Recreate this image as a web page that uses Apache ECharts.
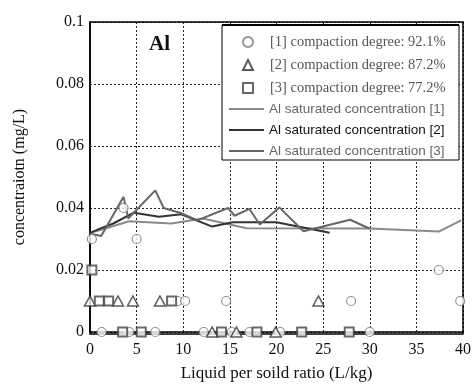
<!DOCTYPE html>
<html>
<head>
<meta charset="utf-8">
<script src="https://cdn.jsdelivr.net/npm/echarts@6/dist/echarts.min.js"></script>
<style>
  html, body { margin: 0; padding: 0; background: #fff; }
  #chart { width: 474px; height: 387px; }
</style>
</head>
<body>
<div id="chart"></div>
<script>
// measured points, [x (L/kg), concentration (mg/L)]
const pts92 = [[0.2,0.03],[3.6,0.04],[5,0.03],[9.4,0.01],[10.2,0.01],[14.6,0.01],[28,0.01],[37.4,0.02],[39.7,0.01],
  [1.25,0],[4.2,0],[7,0],[12.2,0],[15.2,0],[17.1,0],[20.4,0],[30,0]];
const pts87 = [[0,0.01],[3,0.01],[4.6,0.01],[7.5,0.01],[24.5,0.01],[13.1,0],[15.7,0],[19.9,0]];
const pts77 = [[0.2,0.02],[1,0.01],[2,0.01],[8.75,0.01],[3.5,0],[5.5,0],[14.1,0],[17.9,0],[22.7,0],[27.8,0]];

// saturated concentration curves
const sat1 = [[0,0.032],[1.2,0.033],[4.2,0.0357],[8.7,0.035],[12.1,0.0366],[16.8,0.0335],[30,0.0334],[37.4,0.0324],[39.8,0.036]];
const sat2 = [[0,0.032],[1.2,0.0335],[2.5,0.035],[4.7,0.0385],[7.4,0.0372],[9.8,0.038],[13.1,0.034],[15.3,0.0354],[20,0.0354],[25.7,0.032]];
const sat3 = [[0,0.0317],[1.2,0.031],[3.6,0.0436],[4.1,0.0366],[7.0,0.0457],[7.9,0.040],[9.8,0.0383],[11.5,0.036],[14.8,0.040],
  [15.5,0.0375],[17.1,0.0397],[18.2,0.0347],[20.3,0.0402],[22.9,0.0325],[27.9,0.0362],[30,0.0333]];

const names = [
  '[1] compaction degree: 92.1%',
  '[2] compaction degree: 87.2%',
  '[3] compaction degree: 77.2%',
  'Al saturated concentration [1]',
  'Al saturated concentration [2]',
  'Al saturated concentration [3]'
];

const serif = '"Liberation Serif", "Times New Roman", serif';
const sans = '"Liberation Sans", Arial, sans-serif';

const chart = echarts.init(document.getElementById('chart'));

const option = {
  animation: false,
  backgroundColor: '#fff',
  title: {
    text: 'Al',
    left: 144,
    top: 29,
    textStyle: { fontFamily: serif, fontSize: 21, fontWeight: 'bold', color: '#111' }
  },
  grid: { left: 90, right: 11, top: 22, bottom: 53, containLabel: false },
  xAxis: {
    type: 'value',
    min: 0, max: 40, interval: 5,
    name: 'Liquid per soild ratio (L/kg)',
    nameLocation: 'middle',
    nameGap: 33,
    nameTextStyle: { fontFamily: serif, fontSize: 17, color: '#111' },
    axisLine: { lineStyle: { color: '#000', width: 1.5 } },
    axisTick: { show: false },
    axisLabel: { fontFamily: serif, fontSize: 16, color: '#111', margin: 10 },
    splitLine: { show: true, lineStyle: { color: '#222', type: [2, 2], width: 1 } }
  },
  yAxis: {
    type: 'value',
    min: 0, max: 0.1, interval: 0.02,
    name: 'concentraiotn (mg/L)',
    nameLocation: 'middle',
    nameGap: 62,
    nameTextStyle: { fontFamily: serif, fontSize: 16, color: '#111' },
    axisLine: { show: true, lineStyle: { color: '#000', width: 1.5 } },
    axisTick: { show: false },
    axisLabel: { fontFamily: serif, fontSize: 16, color: '#111', margin: 6 },
    splitLine: { show: true, lineStyle: { color: '#222', type: [2, 2], width: 1 } }
  },
  graphic: [
    // frame on top/right of plot and legend box
    { type: 'rect', z: 1, silent: true, shape: { x: 90, y: 22, width: 373, height: 312 },
      style: { fill: 'none', stroke: '#000', lineWidth: 1.5 } },
    { type: 'rect', z: 3, silent: true, shape: { x: 222, y: 25, width: 237, height: 135 },
      style: { fill: '#fff', stroke: '#000', lineWidth: 1 } },
    { type: 'line', z: 3, silent: true, shape: { x1: 222, y1: 25, x2: 459, y2: 25 },
      style: { stroke: '#000', lineWidth: 2 } }
  ],
  legend: [
    {
      z: 5,
      orient: 'vertical',
      left: 242, top: 34,
      padding: 0,
      itemWidth: 10, itemHeight: 10,
      itemGap: 7,
      data: names.slice(0, 3),
      textStyle: { fontFamily: serif, fontSize: 14.5, color: '#555', lineHeight: 16, padding: [0, 0, 0, 12] }
    },
    {
      z: 5,
      orient: 'vertical',
      left: 229, top: 101,
      padding: 0,
      itemWidth: 35, itemHeight: 2,
      itemGap: 5,
      data: [
        { name: names[3], icon: 'rect', textStyle: { color: '#666' } },
        { name: names[4], icon: 'rect', textStyle: { color: '#111' } },
        { name: names[5], icon: 'rect', textStyle: { color: '#666' } }
      ],
      textStyle: { fontFamily: sans, fontSize: 13.5, lineHeight: 16 }
    }
  ],
  series: [
    {
      name: names[3], type: 'line', data: sat1, symbol: 'none', z: 2,
      lineStyle: { color: '#8a8a8a', width: 2 }, itemStyle: { color: '#8a8a8a' }
    },
    {
      name: names[4], type: 'line', data: sat2, symbol: 'none', z: 2,
      lineStyle: { color: '#333', width: 2 }, itemStyle: { color: '#333' }
    },
    {
      name: names[5], type: 'line', data: sat3, symbol: 'none', z: 2,
      lineStyle: { color: '#666', width: 2 }, itemStyle: { color: '#666' }
    },
    {
      name: names[0], type: 'scatter', data: pts92, symbol: 'circle', symbolSize: 9, z: 4,
      itemStyle: { color: '#fff', borderColor: '#777', borderWidth: 1.2 }
    },
    {
      name: names[1], type: 'scatter', data: pts87, symbol: 'triangle', symbolSize: [11, 10], z: 4,
      itemStyle: { color: '#fff', borderColor: '#333', borderWidth: 1.5 }
    },
    {
      name: names[2], type: 'scatter', data: pts77, symbol: 'rect', symbolSize: 9, z: 4,
      itemStyle: { color: '#fff', borderColor: '#444', borderWidth: 2 }
    }
  ]
};

chart.setOption(option);
</script>
</body>
</html>
